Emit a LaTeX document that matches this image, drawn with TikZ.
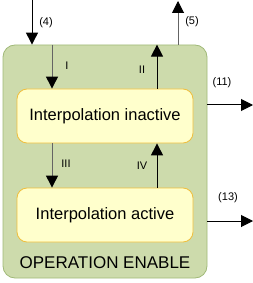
\documentclass[tikz,border=0pt]{standalone}
\usepackage{fontspec}
\setmainfont{Liberation Sans}
\usepackage{xcolor}
\definecolor{opfill}{RGB}{205,219,172}
\definecolor{opdraw}{RGB}{160,185,120}
\definecolor{stfill}{RGB}{255,255,204}
\definecolor{stdraw}{RGB}{240,190,60}
\definecolor{lgray}{RGB}{100,100,100}
\usepackage{tikz}
\usetikzlibrary{arrows.meta, positioning, calc}

\begin{document}
\begin{tikzpicture}[
        x=1pt, y=-1pt,
        opbox/.style={rectangle, rounded corners=12pt, draw=opdraw, fill=opfill, line width=0.8pt, minimum width=204pt, minimum height=233pt},
        stbox/.style={rectangle, rounded corners=10pt, draw=stdraw, fill=stfill, line width=0.8pt, minimum width=176pt, minimum height=54pt, font=\fontsize{16.5}{18}\selectfont},
        tr/.style={-{Triangle[length=12pt, width=12pt, color=black]}, line width=1pt},
        lbl/.style={font=\fontsize{11}{13}\selectfont, inner sep=0pt}
    ]
        \useasboundingbox (0,0) rectangle (253,283);

        \node[opbox] (outer) at (105, 161.5) {};
        \node[font=\fontsize{17}{19}\selectfont] (optitle) at (105, 263) {OPERATION ENABLE};

        \node[stbox] (inact) at (105, 116) {Interpolation inactive};
        \node[stbox] (act) at (105, 215) {Interpolation active};

        % columns of the transitions
        \coordinate (colL) at (52, 0);
        \coordinate (colR) at (157, 0);
        \coordinate (in4) at (32, 0);
        \coordinate (out5) at (178, 1);
        \coordinate (out11) at (253, 105);
        \coordinate (out13) at (253, 221);

        \draw[tr] (in4) -- (outer.north -| in4);
        \draw[tr, lgray] (outer.north -| out5) -- (out5);
        \draw[tr] (outer.east |- out11) -- (out11);
        \draw[tr] (outer.east |- out13) -- (out13);

        \draw[tr, lgray] (outer.north -| colL) -- (inact.north -| colL);
        \draw[tr] (inact.north -| colR) -- (outer.north -| colR);
        \draw[tr, lgray] (inact.south -| colL) -- (act.north -| colL);
        \draw[tr] (act.north -| colR) -- (inact.south -| colR);

        \node[lbl] (l4) at (46, 23) {(4)};
        \node[lbl] (l5) at (192, 22) {(5)};
        \node[lbl] (l11) at (222, 83) {(11)};
        \node[lbl] (l13) at (228, 198) {(13)};
        \node[lbl] (lI) at (67, 66) {I};
        \node[lbl] (lII) at (142, 70) {II};
        \node[lbl] (lIII) at (66, 164) {III};
        \node[lbl] (lIV) at (142, 166) {IV};
    \end{tikzpicture}
\end{document}
